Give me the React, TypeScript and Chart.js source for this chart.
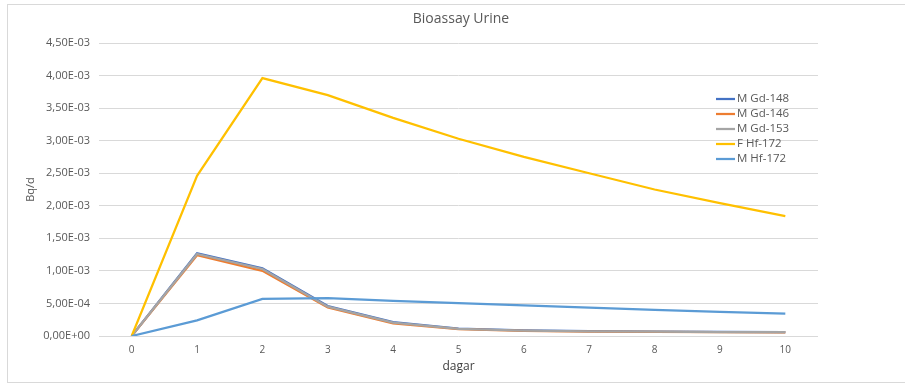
import React, { useEffect, useRef } from "react";
import { Chart, registerables } from "chart.js";

Chart.register(...registerables);

// Days after intake
const days = ["0", "1", "2", "3", "4", "5", "6", "7", "8", "9", "10"];

// Urinary excretion, Bq/d
const mGd148 = [0, 1.27e-3, 1.04e-3, 0.46e-3, 0.215e-3, 0.115e-3, 0.085e-3, 0.075e-3, 0.068e-3, 0.062e-3, 0.06e-3];
const mGd146 = [0, 1.24e-3, 1.0e-3, 0.44e-3, 0.195e-3, 0.105e-3, 0.078e-3, 0.068e-3, 0.062e-3, 0.058e-3, 0.056e-3];
const mGd153 = [0, 1.26e-3, 1.03e-3, 0.45e-3, 0.205e-3, 0.11e-3, 0.082e-3, 0.072e-3, 0.066e-3, 0.06e-3, 0.058e-3];
const fHf172 = [0, 2.46e-3, 3.96e-3, 3.7e-3, 3.35e-3, 3.03e-3, 2.75e-3, 2.5e-3, 2.25e-3, 2.04e-3, 1.84e-3];
const mHf172 = [0, 0.24e-3, 0.57e-3, 0.58e-3, 0.54e-3, 0.505e-3, 0.47e-3, 0.435e-3, 0.4e-3, 0.37e-3, 0.345e-3];

const seriesNames = ["M Gd-148", "M Gd-146", "M Gd-153", "F Hf-172", "M Hf-172"];
const seriesValues = [mGd148, mGd146, mGd153, fHf172, mHf172];
const seriesColors = ["#4472C4", "#ED7D31", "#A5A5A5", "#FFC000", "#5B9BD5"];

const titleText = "Bioassay Urine";
const yTitle = "Bq/d";
const xTitle = "dagar";

const FONT = "'Open Sans', sans-serif";

function formatSci(v: number): string {
  const [mant, exp] = v.toExponential(2).split("e");
  const e = parseInt(exp, 10);
  const sign = e < 0 ? "-" : "+";
  const abs = Math.abs(e).toString().padStart(2, "0");
  return `${mant.replace(".", ",")}E${sign}${abs}`;
}

const decorations = {
  id: "decorations",
  afterDraw(chart: Chart) {
    const { ctx, chartArea } = chart;
    ctx.save();

    // chart frame
    ctx.strokeStyle = "#D9D9D9";
    ctx.lineWidth = 1;
    ctx.strokeRect(7.5, 4.5, 910, 378);

    // title
    ctx.fillStyle = "#595959";
    ctx.font = `14px ${FONT}`;
    ctx.textAlign = "center";
    ctx.textBaseline = "middle";
    ctx.fillText(titleText, 461, 19);

    // x axis title
    ctx.fillStyle = "#404040";
    ctx.font = `12px ${FONT}`;
    ctx.fillText(xTitle, (chartArea.left + chartArea.right) / 2, 367);

    // y axis title
    ctx.save();
    ctx.translate(31, (chartArea.top + chartArea.bottom) / 2);
    ctx.rotate(-Math.PI / 2);
    ctx.fillStyle = "#595959";
    ctx.font = `11px ${FONT}`;
    ctx.fillText(yTitle, 0, 0);
    ctx.restore();

    // legend
    ctx.font = `11.5px ${FONT}`;
    ctx.textAlign = "left";
    seriesNames.forEach((name, i) => {
      const y = 99 + i * 15;
      ctx.strokeStyle = seriesColors[i];
      ctx.lineWidth = 2.25;
      ctx.beginPath();
      ctx.moveTo(716, y);
      ctx.lineTo(735, y);
      ctx.stroke();
      ctx.fillStyle = "#595959";
      ctx.fillText(name, 737, y);
    });

    ctx.restore();
  },
};

export default function App() {
  const canvasRef = useRef<HTMLCanvasElement>(null);

  useEffect(() => {
    if (!canvasRef.current) return;
    const chart = new Chart(canvasRef.current, {
      type: "line",
      data: {
        labels: days,
        datasets: seriesNames.map((name, i) => ({
          label: name,
          data: seriesValues[i],
          borderColor: seriesColors[i],
          backgroundColor: seriesColors[i],
          borderWidth: 2.25,
          pointRadius: 0,
          tension: 0,
          fill: false,
          order: seriesNames.length - i,
        })),
      },
      options: {
        animation: false,
        responsive: false,
        maintainAspectRatio: false,
        layout: { padding: { top: 43, right: 87, bottom: 0, left: 0 } },
        plugins: {
          legend: { display: false },
          title: { display: false },
          tooltip: { enabled: false },
        },
        scales: {
          x: {
            type: "category",
            offset: true,
            grid: { display: false, drawTicks: false },
            border: { display: false },
            ticks: {
              color: "#595959",
              font: { family: FONT, size: 10 },
              padding: 8,
              maxRotation: 0,
              autoSkip: false,
            },
            afterFit(scale: any) {
              scale.height = 49;
            },
          },
          y: {
            min: 0,
            max: 4.5e-3,
            grid: { color: "#D9D9D9", lineWidth: 1, drawTicks: false },
            border: { display: false },
            ticks: {
              stepSize: 0.5e-3,
              color: "#595959",
              font: { family: FONT, size: 11 },
              padding: 9,
              callback: (v: any) => formatSci(Number(v)),
            },
            afterFit(scale: any) {
              scale.width = 99;
            },
          },
        },
      },
      plugins: [decorations],
    });
    return () => chart.destroy();
  }, []);

  return (
    <div style={{ position: "fixed", left: 0, top: 0, width: 905, height: 385, background: "#fff" }}>
      <canvas ref={canvasRef} width={905} height={385} style={{ display: "block" }} />
    </div>
  );
}
